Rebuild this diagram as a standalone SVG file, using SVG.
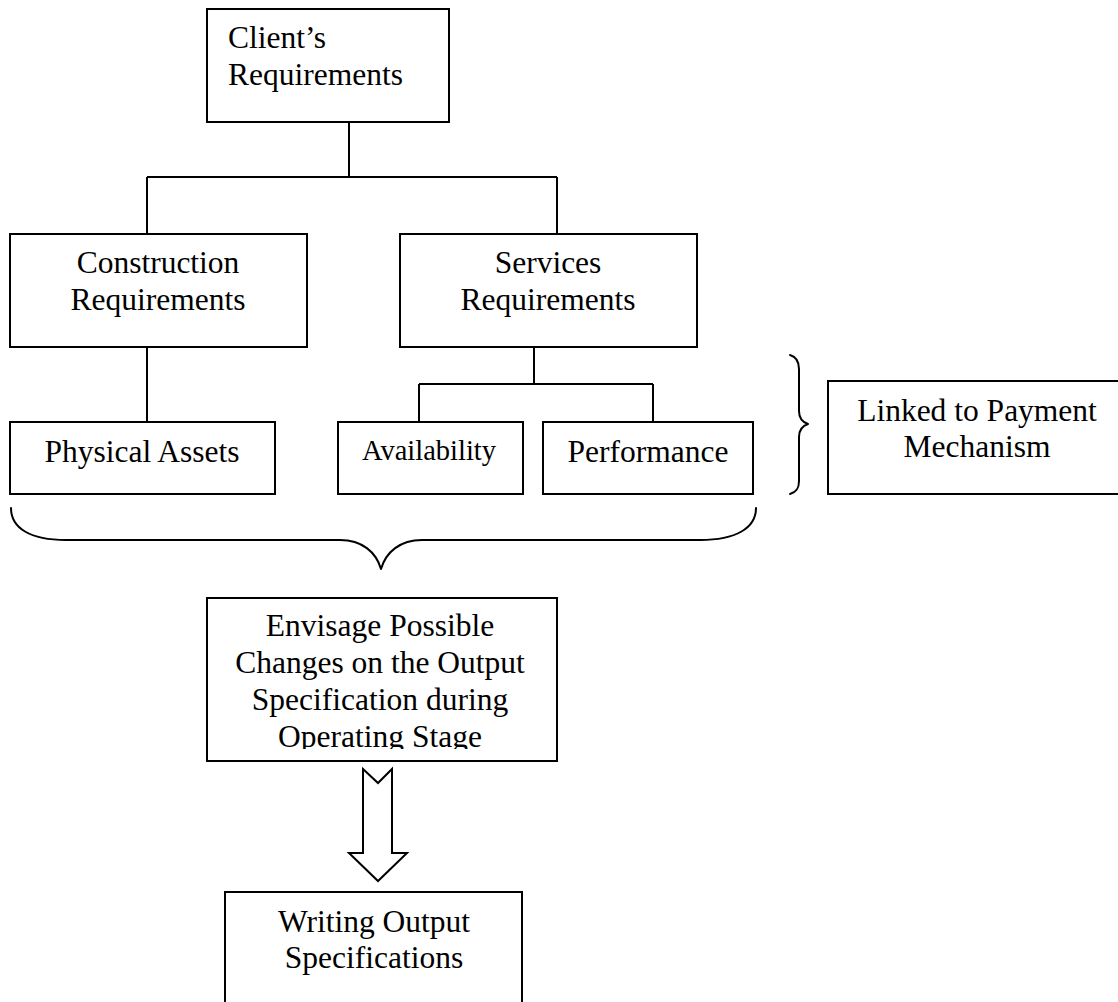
<svg xmlns="http://www.w3.org/2000/svg" width="1118" height="1002" viewBox="0 0 1118 1002">
  <style>
    .box { fill: #fff; stroke: #000; stroke-width: 2; }
    .line { fill: none; stroke: #000; stroke-width: 2; }
    .brace { fill: none; stroke: #000; stroke-width: 2; stroke-linecap: round; stroke-linejoin: round; }
    .lbl { font-family: "Liberation Serif", "Times New Roman", serif; font-size: 31.5px; fill: #000; }
    .mid { text-anchor: middle; }
  </style>
  <defs>
    <clipPath id="envisage-clip">
      <rect x="208" y="599" width="348" height="150"/>
    </clipPath>
  </defs>
  <rect width="1118" height="1002" fill="#fff"/>

  <!-- connectors -->
  <g id="connectors">
    <path class="line" d="M349 122 V177 M147 177 H557 M147 177 V234 M557 177 V234"/>
    <path class="line" d="M147 347 V422"/>
    <path class="line" d="M534 347 V384 M419 384 H653 M419 384 V422 M653 384 V422"/>
    <!-- brace grouping availability and performance -->
    <path class="brace" d="M790 355 C797 357 799 362 799 369 V411 C799 418 802 422 808 424 C802 426 799 430 799 437 V481 C799 488 797 492 790 494"/>
    <!-- brace grouping the three lower requirements -->
    <path class="brace" d="M11 508 C11 528 30 540 66 540 H340 C362 540 376 552 381 569 C386 552 400 540 422 540 H700 C736 540 756 528 756 508"/>
    <!-- block arrow -->
    <path class="box" d="M363 769 L378 783 L392 769 V853 H407 L378 881 L349 853 H363 Z"/>
  </g>

  <g id="client">
    <rect class="box" x="207" y="9" width="242" height="113"/>
    <text class="lbl" x="228" y="48">Client’s</text>
    <text class="lbl" x="228" y="85">Requirements</text>
  </g>

  <g id="construction">
    <rect class="box" x="10" y="234" width="297" height="113"/>
    <text class="lbl mid" x="158" y="273">Construction</text>
    <text class="lbl mid" x="158" y="310">Requirements</text>
  </g>

  <g id="services">
    <rect class="box" x="400" y="234" width="297" height="113"/>
    <text class="lbl mid" x="548" y="273">Services</text>
    <text class="lbl mid" x="548" y="310">Requirements</text>
  </g>

  <g id="physical-assets">
    <rect class="box" x="10" y="422" width="265" height="72"/>
    <text class="lbl mid" x="142" y="462">Physical Assets</text>
  </g>

  <g id="availability">
    <rect class="box" x="338" y="422" width="185" height="72"/>
    <text class="lbl mid" x="429" y="460" style="font-size:28.5px">Availability</text>
  </g>

  <g id="performance">
    <rect class="box" x="543" y="422" width="210" height="72"/>
    <text class="lbl mid" x="648" y="462">Performance</text>
  </g>

  <g id="payment">
    <rect class="box" x="828" y="381" width="298" height="113"/>
    <text class="lbl mid" x="977" y="421">Linked to Payment</text>
    <text class="lbl mid" x="977" y="457">Mechanism</text>
  </g>

  <g id="envisage">
    <rect class="box" x="207" y="598" width="350" height="163"/>
    <g clip-path="url(#envisage-clip)">
      <text class="lbl mid" x="380" y="636">Envisage Possible</text>
      <text class="lbl mid" x="380" y="673">Changes on the Output</text>
      <text class="lbl mid" x="380" y="710">Specification during</text>
      <text class="lbl mid" x="380" y="747">Operating Stage</text>
    </g>
  </g>

  <g id="writing">
    <rect class="box" x="225" y="892" width="297" height="120"/>
    <text class="lbl mid" x="374" y="932">Writing Output</text>
    <text class="lbl mid" x="374" y="968">Specifications</text>
  </g>
</svg>
